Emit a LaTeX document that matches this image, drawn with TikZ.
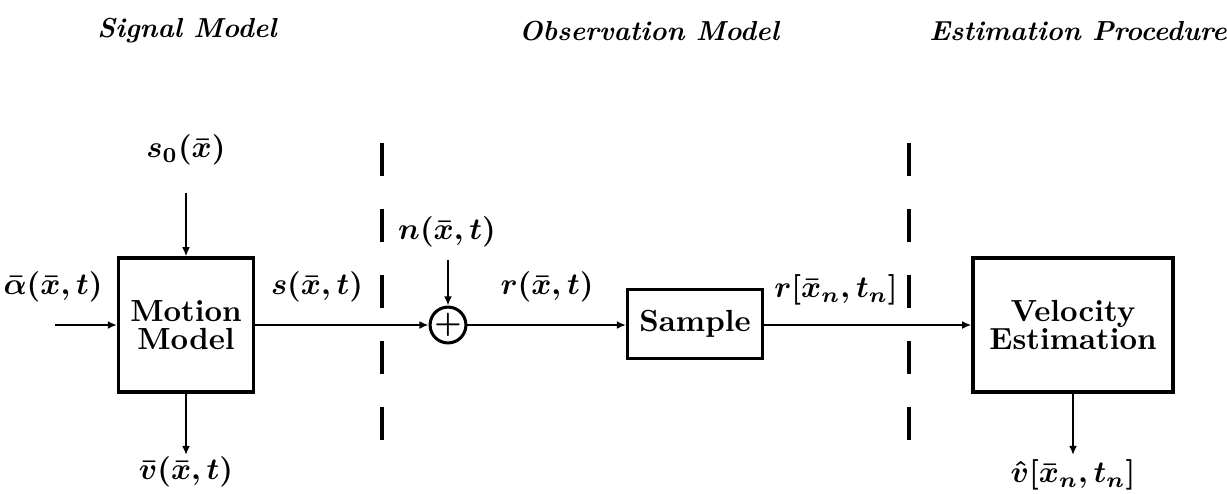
\documentclass[tikz,border=0pt]{standalone}
\usepackage{amsmath,amssymb}
\usepackage{tikz}
\usetikzlibrary{arrows.meta,positioning}

\begin{document}
\begin{tikzpicture}[
  x=0.0115cm, y=-0.0115cm,
  font=\bfseries\boldmath,
  blk/.style={draw, line width=1.1pt, align=center, inner sep=0pt},
  lbl/.style={inner sep=1pt},
  hdr/.style={font=\small\bfseries\itshape},
  sumnode/.style={draw, circle, line width=1pt, minimum size=0.345cm, inner sep=0pt},
  arr/.style={-{Latex[length=3pt,width=2.6pt]}, line width=0.9pt},
  sep/.style={line width=1.1pt, dash pattern=on 10.8pt off 10.8pt}
]
\useasboundingbox (0,0) rectangle (1227,493);
% headers
\node[hdr] (hsig) at (187,31) {Signal Model};
\node[hdr] (hobs) at (649,31) {Observation Model};
\node[hdr] (hest) at (1078,31) {Estimation Procedure};
% blocks
\node[blk, minimum width=1.55cm, minimum height=1.54cm] (motion) at (186,325) {Motion\\[-3pt]Model};
\node[sumnode] (sum) at (448,325) {$+$};
\node[blk, minimum width=1.55cm, minimum height=0.79cm] (sample) at (695,324) {Sample};
\node[blk, minimum width=2.3cm, minimum height=1.54cm] (velest) at (1073,325) {Velocity\\[-3pt]Estimation};
% signal labels
\node[lbl] (alpha) at (53,287) {$\bar{\alpha}(\bar{x},t)$};
\node[lbl] (szero) at (186,150) {$s_0(\bar{x})$};
\node[lbl] (sig) at (317,287) {$s(\bar{x},t)$};
\node[lbl] (vbar) at (186,472) {$\bar{v}(\bar{x},t)$};
\node[lbl] (noise) at (447,232) {$n(\bar{x},t)$};
\node[lbl] (robs) at (547,287) {$r(\bar{x},t)$};
\node[lbl] (rsmp) at (836,290) {$r[\bar{x}_n,t_n]$};
\node[lbl] (vhat) at (1073,475) {$\hat{v}[\bar{x}_n,t_n]$};
% free ends
\coordinate (inp) at (55,325);
\coordinate (sztop) at (186,193);
\coordinate (vbtip) at (186,455);
\coordinate (ntop) at (448,260);
\coordinate (vhtip) at (1073,455);
% connectors
\draw[arr] (inp) -- (motion.west);
\draw[arr] (sztop) -- (motion.north);
\draw[arr] (motion.south) -- (vbtip);
\draw[arr] (motion.east) -- (sum.west);
\draw[arr] (ntop) -- (sum.north);
\draw[arr] (sum.east) -- (sample.west |- sum.east);
\draw[arr] (sample.east |- sum.east) -- (velest.west);
\draw[arr] (velest.south) -- (vhtip);
% separators
\draw[sep] (382,143) -- (382,440);
\draw[sep] (909,143) -- (909,440);
\end{tikzpicture}
\end{document}
